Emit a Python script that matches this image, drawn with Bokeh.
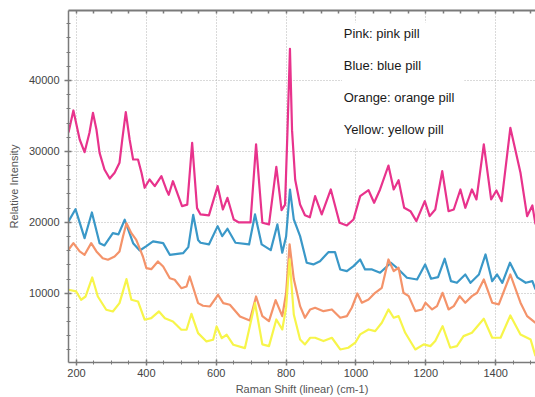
from bokeh.plotting import figure
from bokeh.models import FixedTicker, LinearAxis, Label, BoxAnnotation, Range1d
from bokeh.embed import file_html
from bokeh.resources import INLINE

# ---- data ----
pink_x = [177,191,209,223,237,247,257,266,280,295,309,323,331,341,352,362,376,386,395,409,424,443,457,464,476,502,517,531,545,555,579,604,619,632,650,665,698,714,732,751,772,787,797,804,811,817,826,840,854,868,883,902,928,953,974,993,1012,1036,1052,1069,1093,1108,1122,1138,1156,1173,1197,1211,1227,1247,1265,1280,1299,1313,1332,1345,1366,1387,1402,1417,1442,1471,1490,1505,1514]
pink_y = [32670,35770,31680,29890,32630,35440,33090,29800,27450,26180,26990,28400,31680,35530,31680,28860,28860,26990,24870,26040,25100,26510,24630,23880,25800,22280,22500,31210,22000,21110,20970,25100,21810,23460,20400,19980,19980,30980,19940,19700,27830,21710,22500,33000,44470,33000,26000,22520,21000,20700,23690,21110,24630,19940,19560,20400,23690,24530,22750,24630,28010,24630,25940,22050,21570,20160,22980,20870,21810,27210,21570,21810,24630,22050,24630,23220,30980,23220,24490,22980,33330,26990,20870,22370,19700]

blue_x = [177,197,223,244,266,280,304,320,338,362,381,400,419,448,467,505,520,534,548,555,579,604,617,632,655,694,711,730,756,775,789,800,811,822,840,859,878,897,921,940,955,974,993,1012,1026,1046,1069,1100,1117,1146,1175,1198,1215,1235,1254,1272,1289,1313,1328,1352,1371,1390,1404,1419,1441,1462,1486,1505,1514]
blue_y = [20120,21850,17760,21390,17060,16740,18470,18290,20360,17060,16030,16640,17300,17060,15420,15650,16500,21060,17500,17120,16880,19460,18050,19090,17120,16880,21110,16880,16080,19700,15710,18000,24630,20400,18050,14300,14060,14520,15790,15790,13350,13110,13820,14760,13350,13350,12890,14300,13590,12180,11940,14060,12040,12270,14860,11700,11470,12640,11470,12640,15470,11700,12640,11470,14300,12240,11470,11700,10530]

orange_x = [177,191,209,223,242,257,275,290,309,323,333,343,357,371,390,400,414,433,448,467,481,500,515,524,533,548,562,582,605,620,639,668,696,714,732,751,770,789,800,810,822,840,854,869,883,907,931,955,974,988,1004,1017,1036,1055,1074,1093,1108,1122,1136,1151,1170,1189,1199,1218,1232,1248,1265,1280,1297,1313,1332,1347,1366,1390,1409,1442,1471,1490,1514]
orange_y = [16130,17060,15890,15420,17060,15890,14940,14720,15180,15890,18000,19880,18470,17530,15180,13530,13390,14480,13770,12120,11900,10710,10950,12360,10950,8600,8230,8130,9780,8600,8370,6720,6160,9540,6770,6060,9020,6770,10000,16880,12000,8180,6540,7710,7950,7470,7710,6540,6770,7950,9970,8660,9120,10060,10770,14760,13110,13590,10060,9590,7470,7710,8660,7710,8180,10060,7710,8180,9590,8660,9590,10060,11940,8660,8420,12640,8660,6770,5830]

yellow_x = [177,199,213,226,245,261,285,304,323,343,357,376,395,414,436,453,476,500,515,529,548,572,591,601,616,630,649,682,711,732,751,772,789,800,810,822,840,854,869,883,907,931,955,978,998,1012,1036,1055,1074,1093,1108,1122,1141,1170,1194,1213,1227,1248,1270,1289,1308,1332,1366,1390,1414,1442,1471,1500,1514]
yellow_y = [10490,10250,9080,9540,12220,9540,7670,7430,8600,11980,9080,8840,6260,6480,7430,6480,6020,4850,4850,7100,4370,3200,3440,5310,3660,4140,2730,2250,8600,2780,2540,6300,4890,8000,14760,7000,3480,2780,3720,3720,3250,3720,2070,2310,3020,4190,4890,4650,5830,7710,6540,6770,4420,2070,2780,2540,3250,5360,2310,2540,3950,4420,6400,3720,3720,6860,4190,3480,1130]

x_major = [200, 400, 600, 800, 1000, 1200, 1400]
x_minor = list(range(200, 1515, 50))
y_major = [10000, 20000, 30000, 40000]
y_minor = list(range(2000, 50000, 2000))

legend_texts = ["Pink: pink pill", "Blue: blue pill", "Orange: orange pill", "Yellow: yellow pill"]
legend_y = [46585, 42115, 37560, 33130]

colors = {"pink": "#E8338C", "blue": "#3A98C8", "orange": "#F4936A", "yellow": "#F7F54A"}

FONT = "Liberation Sans"
AXIS_COL = "#7a7a7a"

p = figure(width=535, height=397, x_range=Range1d(177, 1514), y_range=Range1d(230, 49870),
           output_backend="svg", toolbar_location=None,
           min_border_left=68, min_border_right=0, min_border_top=10, min_border_bottom=34,
           x_axis_label="Raman Shift (linear) (cm-1)", y_axis_label="Relative Intensity")
p.outline_line_color = None
p.background_fill_color = "white"
p.border_fill_color = "white"

xt = FixedTicker(ticks=x_major, minor_ticks=x_minor)
yt = FixedTicker(ticks=y_major, minor_ticks=y_minor)
p.xaxis.ticker = xt
p.yaxis.ticker = yt

for ax in (p.xaxis[0], p.yaxis[0]):
    ax.axis_line_color = AXIS_COL
    ax.axis_line_width = 1.5
    ax.major_tick_line_color = AXIS_COL
    ax.minor_tick_line_color = AXIS_COL
    ax.major_tick_line_width = 1.5
    ax.major_tick_in = 3
    ax.major_tick_out = 4
    ax.minor_tick_in = 2
    ax.minor_tick_out = 2
    ax.major_label_text_font = FONT
    ax.major_label_text_font_size = "11px"
    ax.major_label_text_color = "#444444"
    ax.axis_label_text_font = FONT
    ax.axis_label_text_font_size = "11px"
    ax.axis_label_text_font_style = "normal"
    ax.axis_label_text_color = "#555555"

p.xaxis.major_tick_out = 3
p.xaxis.major_label_standoff = 3
p.xaxis.axis_label_standoff = 3
p.yaxis.major_label_standoff = 5
p.yaxis.axis_label_standoff = 6

# top border with small inward ticks (no labels)
top_ticker = FixedTicker(ticks=[], minor_ticks=x_minor)
top = LinearAxis(ticker=top_ticker, major_label_standoff=0,
                 major_tick_in=0, major_tick_out=0, minor_tick_in=3, minor_tick_out=0,
                 axis_line_color=AXIS_COL, axis_line_width=2,
                 minor_tick_line_color=AXIS_COL, minor_tick_line_width=1.5)
p.add_layout(top, "above")

p.xgrid.ticker = xt
p.ygrid.ticker = yt
for g in (p.xgrid[0], p.ygrid[0]):
    g.grid_line_color = "#b5b5b5"
    g.grid_line_dash = "1 2"
    g.grid_line_width = 1

LW = 2.2
p.line(pink_x, pink_y, line_color=colors["pink"], line_width=LW, line_join="round")
p.line(blue_x, blue_y, line_color=colors["blue"], line_width=LW, line_join="round")
p.line(orange_x, orange_y, line_color=colors["orange"], line_width=LW, line_join="round")
p.line(yellow_x, yellow_y, line_color=colors["yellow"], line_width=LW, line_join="round")

p.add_layout(BoxAnnotation(left=960, right=1310, bottom=30400, top=48180,
                           fill_color="white", fill_alpha=1.0, line_color=None))
for t, yy in zip(legend_texts, legend_y):
    p.add_layout(Label(x=965, y=yy, text=t, text_font=FONT, text_font_size="13px",
                       text_color="#1a1a1a", text_baseline="alphabetic"))

open("out.html", "w").write(file_html(p, INLINE))
